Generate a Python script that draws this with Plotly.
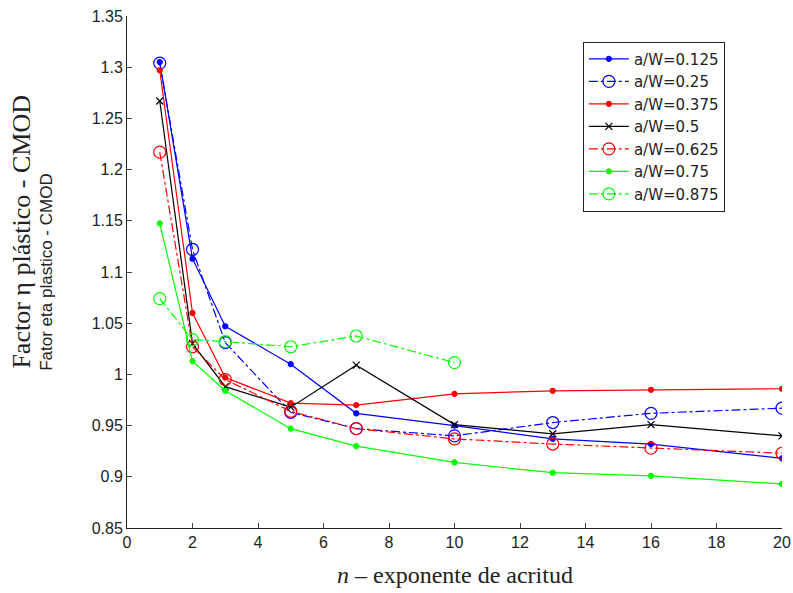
import plotly.graph_objects as go

n_vals = [1, 2, 3, 5, 7, 10, 13, 16, 20]
n_vals_875 = [1, 2, 3, 5, 7, 10]

aw_0125 = [1.305, 1.113, 1.047, 1.010, 0.962, 0.950, 0.937, 0.932, 0.918]
aw_025 = [1.304, 1.122, 1.031, 0.963, 0.947, 0.940, 0.953, 0.962, 0.967]
aw_0375 = [1.297, 1.060, 0.997, 0.972, 0.970, 0.981, 0.984, 0.985, 0.986]
aw_05 = [1.267, 1.030, 0.988, 0.968, 1.009, 0.951, 0.942, 0.951, 0.940]
aw_0625 = [1.217, 1.027, 0.995, 0.964, 0.947, 0.937, 0.932, 0.928, 0.923]
aw_075 = [1.1475, 1.013, 0.984, 0.947, 0.930, 0.914, 0.904, 0.901, 0.893]
aw_0875 = [1.074, 1.034, 1.032, 1.027, 1.0375, 1.0115]

y_ticks = [0.85, 0.9, 0.95, 1.0, 1.05, 1.1, 1.15, 1.2, 1.25, 1.3, 1.35]
y_tick_text = ["0.85", "0.9", "0.95", "1", "1.05", "1.1", "1.15", "1.2", "1.25", "1.3", "1.35"]
x_ticks = [0, 2, 4, 6, 8, 10, 12, 14, 16, 18, 20]

series = [
    ("a/W=0.125", n_vals, aw_0125, "#0000ff", "solid", "circle", 5),
    ("a/W=0.25", n_vals, aw_025, "#0000ff", "dashdot", "circle-open", 12),
    ("a/W=0.375", n_vals, aw_0375, "#ff0000", "solid", "circle", 5),
    ("a/W=0.5", n_vals, aw_05, "#000000", "solid", "x-thin-open", 7),
    ("a/W=0.625", n_vals, aw_0625, "#ff0000", "dashdot", "circle-open", 12),
    ("a/W=0.75", n_vals, aw_075, "#00ff00", "solid", "circle", 5),
    ("a/W=0.875", n_vals_875, aw_0875, "#00ff00", "dashdot", "circle-open", 12),
]

fig = go.Figure()
for i, (name, xs, ys, col, dash, sym, size) in enumerate(series):
    fig.add_trace(go.Scatter(
        x=xs, y=ys, name=name, mode="lines+markers",
        line=dict(color=col, width=1.2, dash=dash),
        marker=dict(symbol=sym, size=size, color=col, line=dict(color=col, width=1.2)),
    ))

fig.update_layout(
    width=793, height=593,
    margin=dict(l=127, r=11, t=16, b=65, autoexpand=False),
    paper_bgcolor="white", plot_bgcolor="white",
    font=dict(family="Liberation Sans, Arial, sans-serif", size=16, color="#222"),
    showlegend=True,
    legend=dict(
        x=0.696, y=0.95, xanchor="left", yanchor="top",
        bgcolor="white", bordercolor="#222", borderwidth=1,
        font=dict(family="DejaVu Sans, Verdana, sans-serif", size=15, color="#222"),
        tracegroupgap=0, itemwidth=40,
    ),
    xaxis=dict(
        range=[0, 20], tickvals=x_ticks, ticks="inside", ticklen=5, automargin=False,
        showline=True, linecolor="#222", linewidth=1, showgrid=False, zeroline=False,
        tickfont=dict(size=16, color="#222"), mirror=False,
    ),
    yaxis=dict(
        range=[0.85, 1.35], tickvals=y_ticks, ticktext=y_tick_text, ticks="inside", ticklen=5,
        automargin=False,
        showline=True, linecolor="#222", linewidth=1, showgrid=False, zeroline=False,
        tickfont=dict(size=16, color="#222"), mirror=False,
    ),
    annotations=[
        dict(text="Factor η plástico - CMOD", textangle=-90, xref="paper", yref="paper",
             x=-0.161, y=0.578, xanchor="center", yanchor="middle", showarrow=False,
             font=dict(family="Liberation Serif, Times New Roman, serif", size=26, color="#222")),
        dict(text="Fator eta plastico - CMOD", textangle=-90, xref="paper", yref="paper",
             x=-0.124, y=0.5, xanchor="center", yanchor="middle", showarrow=False,
             font=dict(family="Liberation Sans, Arial, sans-serif", size=17, color="#222")),
        dict(text="<i>n</i> – exponente de acritud", xref="paper", yref="paper",
             x=0.5, y=-0.062, xanchor="center", yanchor="top", showarrow=False,
             font=dict(family="Liberation Serif, Times New Roman, serif", size=24, color="#222")),
    ],
)

fig.write_html("out.html", config={"displayModeBar": False},
               post_script="document.body.style.margin='0';document.body.style.padding='0';document.body.style.overflow='hidden';")
